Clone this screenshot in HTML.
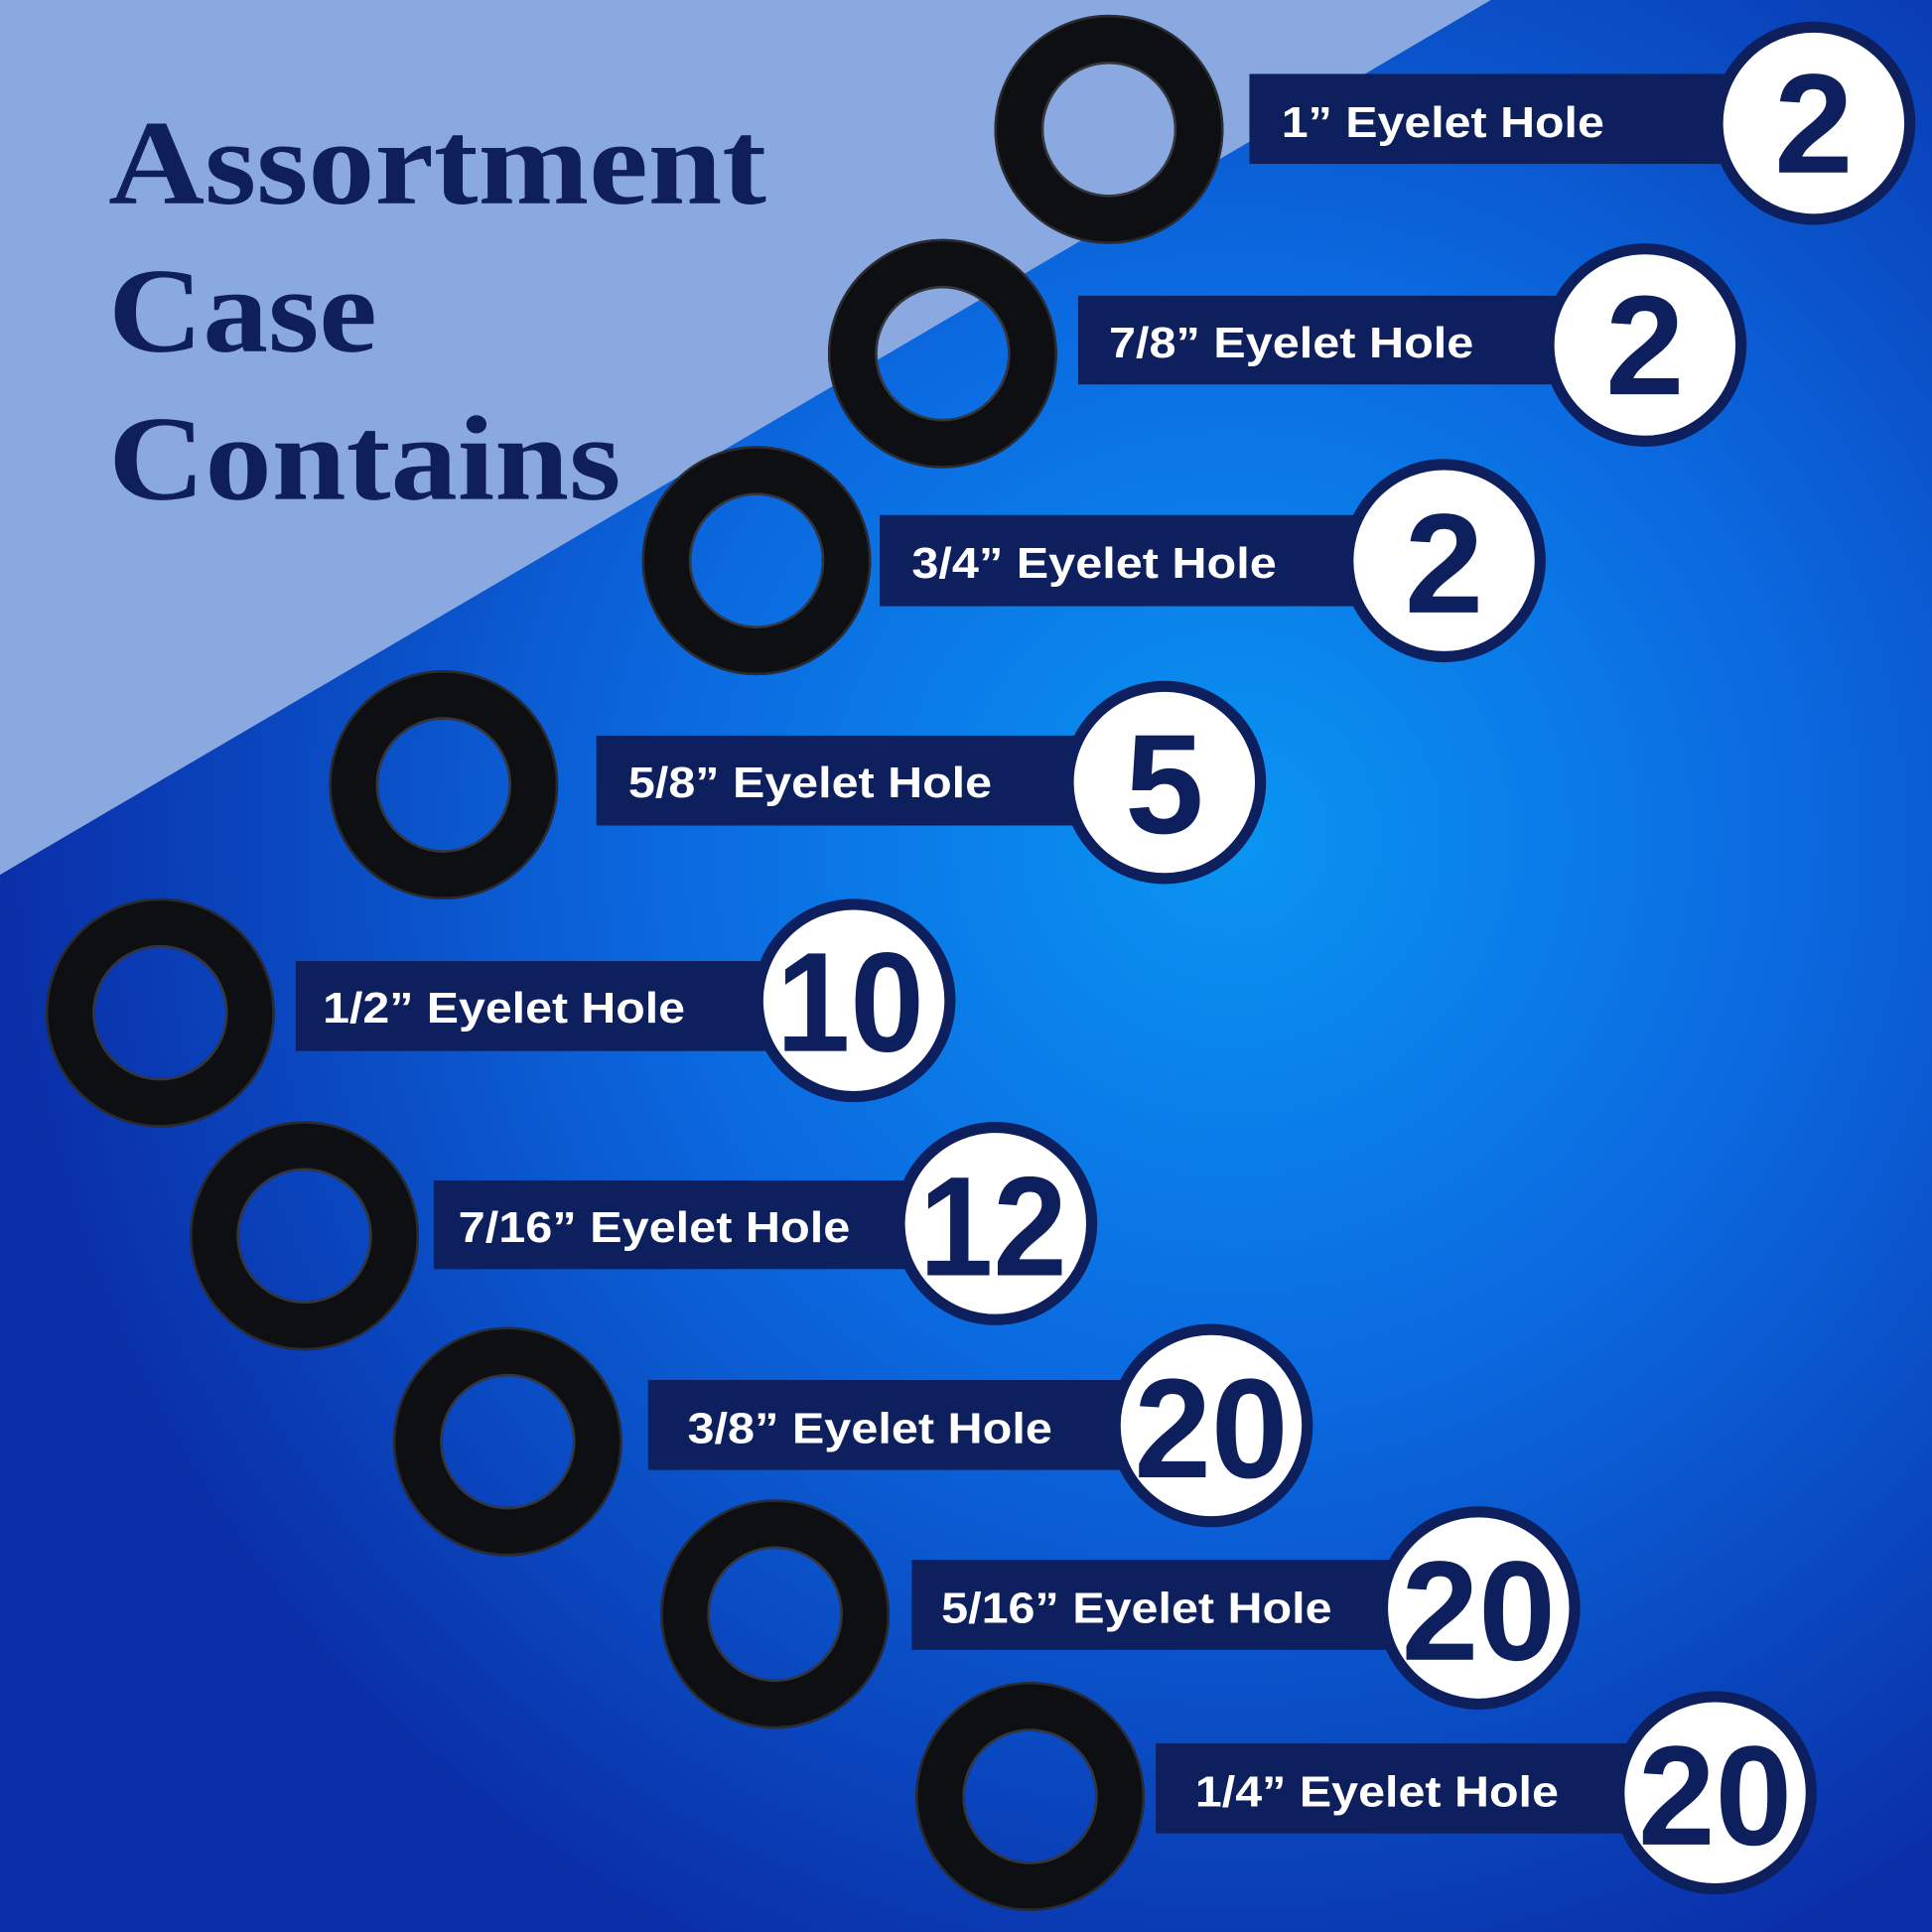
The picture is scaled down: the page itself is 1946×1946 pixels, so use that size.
<!DOCTYPE html>
<html><head><style>html,body{margin:0;padding:0;background:#0a4ad0}svg{display:block}</style></head>
<body>
<svg width="1946" height="1946" viewBox="0 0 1568 1568" xmlns="http://www.w3.org/2000/svg">
<defs>
<radialGradient id="bg" cx="1000" cy="680" r="1000" gradientUnits="userSpaceOnUse">
<stop offset="0" stop-color="#0a95f2"/>
<stop offset="0.45" stop-color="#0b6ae0"/>
<stop offset="1" stop-color="#0a2fa8"/>
</radialGradient>
<g id="w">
<circle r="73" fill="none" stroke="#0e0f12" stroke-width="40"/>
<circle r="92" fill="none" stroke="#2a2c31" stroke-width="2"/>
<circle r="54" fill="none" stroke="#35373d" stroke-width="2"/>
</g>
</defs>
<rect width="1568" height="1568" fill="url(#bg)"/>
<polygon points="0,0 1210,0 0,710" fill="#8aa9e0"/>
<g font-family="Liberation Serif, serif" font-weight="bold" fill="#0f1f5c" font-size="98">
<text x="88" y="165" textLength="534" lengthAdjust="spacingAndGlyphs">Assortment</text>
<text x="88" y="285" textLength="218" lengthAdjust="spacingAndGlyphs">Case</text>
<text x="88" y="405" textLength="416" lengthAdjust="spacingAndGlyphs">Contains</text>
</g>
<g font-family="Liberation Sans, sans-serif" font-weight="bold">
<use href="#w" x="900" y="105"/>
<rect x="1014" y="60" width="400" height="73" fill="#0e1f5e"/>
<text x="1040" y="111" font-size="35" fill="#fff" textLength="262" lengthAdjust="spacingAndGlyphs">1” Eyelet Hole</text>
<circle cx="1472" cy="100" r="78" fill="#fff" stroke="#0e1f5e" stroke-width="9"/>
<text x="1472" y="140" font-size="115" fill="#0e1f5e" text-anchor="middle">2</text>

<use href="#w" x="765" y="287"/>
<rect x="875" y="240" width="400" height="72" fill="#0e1f5e"/>
<text x="900" y="290" font-size="35" fill="#fff" textLength="296" lengthAdjust="spacingAndGlyphs">7/8” Eyelet Hole</text>
<circle cx="1335" cy="280" r="78" fill="#fff" stroke="#0e1f5e" stroke-width="9"/>
<text x="1335" y="320" font-size="115" fill="#0e1f5e" text-anchor="middle">2</text>

<use href="#w" x="614" y="455"/>
<rect x="714" y="418" width="400" height="74" fill="#0e1f5e"/>
<text x="740" y="469" font-size="35" fill="#fff" textLength="296" lengthAdjust="spacingAndGlyphs">3/4” Eyelet Hole</text>
<circle cx="1172" cy="455" r="78" fill="#fff" stroke="#0e1f5e" stroke-width="9"/>
<text x="1172" y="497" font-size="115" fill="#0e1f5e" text-anchor="middle">2</text>

<use href="#w" x="360" y="637"/>
<rect x="484" y="597" width="400" height="73" fill="#0e1f5e"/>
<text x="510" y="647" font-size="35" fill="#fff" textLength="295" lengthAdjust="spacingAndGlyphs">5/8” Eyelet Hole</text>
<circle cx="945" cy="635" r="78" fill="#fff" stroke="#0e1f5e" stroke-width="9"/>
<text x="945" y="676" font-size="115" fill="#0e1f5e" text-anchor="middle">5</text>

<use href="#w" x="130" y="822"/>
<rect x="240" y="780" width="395" height="73" fill="#0e1f5e"/>
<text x="262" y="830" font-size="35" fill="#fff" textLength="294" lengthAdjust="spacingAndGlyphs">1/2” Eyelet Hole</text>
<circle cx="693" cy="812" r="78" fill="#fff" stroke="#0e1f5e" stroke-width="9"/>
<text x="690" y="853" font-size="115" fill="#0e1f5e" text-anchor="middle" textLength="120" lengthAdjust="spacingAndGlyphs">10</text>

<use href="#w" x="247" y="1003"/>
<rect x="352" y="958" width="400" height="72" fill="#0e1f5e"/>
<text x="372" y="1008" font-size="35" fill="#fff" textLength="318" lengthAdjust="spacingAndGlyphs">7/16” Eyelet Hole</text>
<circle cx="808" cy="993" r="78" fill="#fff" stroke="#0e1f5e" stroke-width="9"/>
<text x="806" y="1035" font-size="115" fill="#0e1f5e" text-anchor="middle" textLength="120" lengthAdjust="spacingAndGlyphs">12</text>

<use href="#w" x="412" y="1170"/>
<rect x="526" y="1120" width="400" height="73" fill="#0e1f5e"/>
<text x="558" y="1171" font-size="35" fill="#fff" textLength="296" lengthAdjust="spacingAndGlyphs">3/8” Eyelet Hole</text>
<circle cx="983" cy="1157" r="78" fill="#fff" stroke="#0e1f5e" stroke-width="9"/>
<text x="983" y="1199" font-size="115" fill="#0e1f5e" text-anchor="middle" textLength="125" lengthAdjust="spacingAndGlyphs">20</text>

<use href="#w" x="629" y="1310"/>
<rect x="740" y="1266" width="400" height="73" fill="#0e1f5e"/>
<text x="764" y="1317" font-size="35" fill="#fff" textLength="317" lengthAdjust="spacingAndGlyphs">5/16” Eyelet Hole</text>
<circle cx="1200" cy="1305" r="78" fill="#fff" stroke="#0e1f5e" stroke-width="9"/>
<text x="1200" y="1347" font-size="115" fill="#0e1f5e" text-anchor="middle" textLength="125" lengthAdjust="spacingAndGlyphs">20</text>

<use href="#w" x="836" y="1458"/>
<rect x="938" y="1415" width="400" height="73" fill="#0e1f5e"/>
<text x="970" y="1466" font-size="35" fill="#fff" textLength="295" lengthAdjust="spacingAndGlyphs">1/4” Eyelet Hole</text>
<circle cx="1392" cy="1455" r="78" fill="#fff" stroke="#0e1f5e" stroke-width="9"/>
<text x="1392" y="1497" font-size="115" fill="#0e1f5e" text-anchor="middle" textLength="125" lengthAdjust="spacingAndGlyphs">20</text>
</g>
</svg>
</body></html>
